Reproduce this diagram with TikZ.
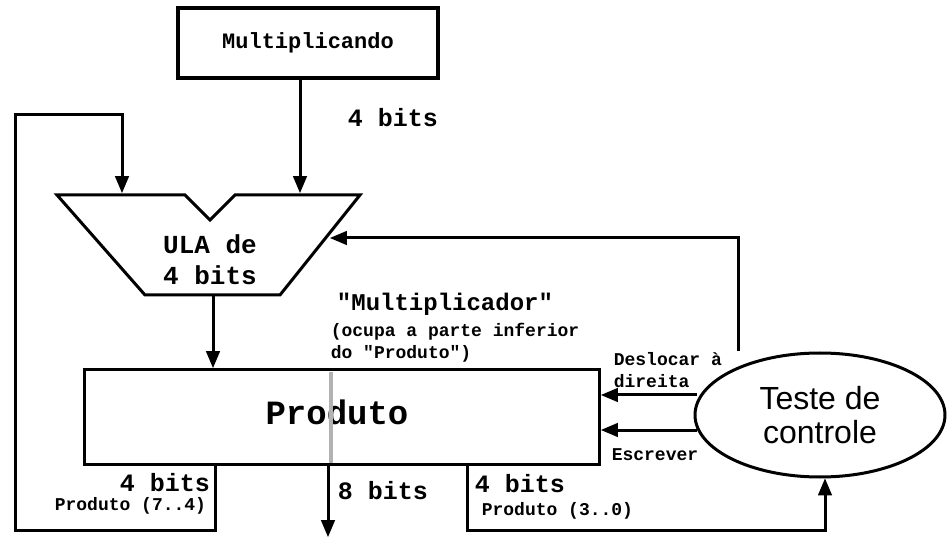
\documentclass[tikz,border=0pt]{standalone}
\usepackage{fontspec}
\setmonofont{Liberation Mono}
\newfontfamily\arialfont{Liberation Sans}
\usetikzlibrary{positioning}
\usetikzlibrary{shapes.geometric, arrows}

\begin{document}
\begin{tikzpicture}[x=1pt, y=-1pt, line width=3pt, >=triangle 45,
  every node/.style={font=\ttfamily\bfseries, align=center},
  bitlabel/.style={font=\ttfamily\bfseries\fontsize{25}{28}\selectfont},
  smalllabel/.style={font=\ttfamily\bfseries\fontsize{18}{22}\selectfont}]
\useasboundingbox (0,0) rectangle (951,545);

% Nodes
\node (mcand) [draw, line width=4pt, minimum width=260pt, minimum height=70pt, font=\ttfamily\bfseries\fontsize{22}{26}\selectfont] at (308,43) {Multiplicando};
\node (prod) [draw, minimum width=515pt, minimum height=95pt] at (342,417) {};
\node (prodtext) [font=\ttfamily\bfseries\fontsize{34}{38}\selectfont] at (337,412) {Produto};
\node (test) [draw, ellipse, minimum width=250pt, minimum height=124pt, font=\arialfont\fontsize{32}{34}\selectfont] at (820,415) {Teste de\\controle};
\node (ula) [font=\ttfamily\bfseries\fontsize{26}{31}\selectfont] at (210,260) {ULA de\\4 bits};
\coordinate (ulatop) at (300,193);
\coordinate (ulaleft) at (122,193);
\coordinate (ularight) at (330,238);

% ULA shape
\draw (57,195) -- (185,195) -- (210,220) -- (235,195) -- (360,195) -- (280,295) -- (145,295) -- cycle;

% Arrows
\draw[->] (mcand.south -| ulatop) -- (ulatop);
\draw[->] (213,295) -- (prod.north -| 213,0);
\draw[->] (prod.south -| 215,0) -- (215,530) -- (15,530) -- (15,115) -- (122,115) -- (ulaleft);
\draw[->] (prod.south -| 328,0) -- (328,537);
\draw[->] (prod.south -| 467,0) -- (467,530) -- (825,530) -- (test.south -| 825,0);
\draw[->] (test.north -| 738,0) -- (738,238) -- (ularight);
\draw[->] (697,395) -- (prod.east |- 0,395);
\draw[->] (697,430) -- (prod.east |- 0,430);
\draw[gray!60, line width=4pt] (331,372) -- (331,463);

% Labels
\node[bitlabel] at (393,118) {4 bits};
\node[bitlabel] at (165,483) {4 bits};
\node[bitlabel] at (383,491) {8 bits};
\node[bitlabel] at (520,484) {4 bits};
\node[smalllabel, anchor=west] at (50,506) {Produto (7..4)};
\node[smalllabel, anchor=west] at (477,511) {Produto (3..0)};
\node[smalllabel, align=left, anchor=west] at (609,370) {Deslocar à\\direita};
\node[smalllabel] at (655,455) {Escrever};
\node[font=\ttfamily\bfseries\fontsize{24}{28}\selectfont] at (445,304) {"Multiplicador"};
\node[smalllabel, align=left, anchor=west] at (326,343) {(ocupa a parte inferior\\do "Produto")};

\end{tikzpicture}
\end{document}
